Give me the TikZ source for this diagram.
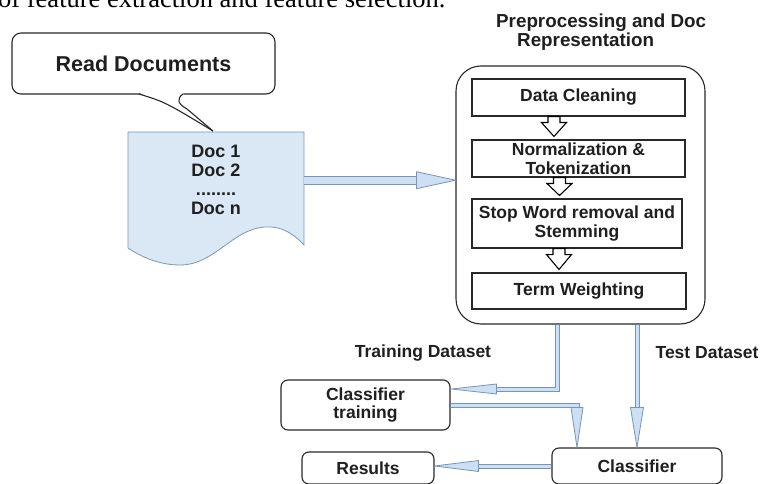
\documentclass[tikz,border=0pt]{standalone}
\usepackage{fontspec}
\setmainfont{Liberation Sans}
\newfontfamily\seriffont{Liberation Serif}
\usetikzlibrary{calc}
\definecolor{docfill}{RGB}{218,231,245}
\definecolor{docedge}{RGB}{125,150,185}
\definecolor{arrfill}{RGB}{205,223,242}
\definecolor{arredge}{RGB}{120,148,185}
\definecolor{boxedge}{RGB}{40,40,40}
\newcommand\arrowhd[4]{\filldraw[bhead, shift={(#1)}, rotate=#2] (0,0) -- (-#3,#4) -- (-#3,-#4) -- cycle;}
\newcommand\hollowdn[3]{%
  \draw[hollow] let \p1=($(#1.south)+(#3,0)$), \p2=($(#2.north)+(0,-3)$) in
    (\x1-6pt,\y1) -- (\x1+6pt,\y1) -- (\x1+6pt,\y1-6pt) -- (\x1+12.5pt,\y1-6pt)
    -- (\x1,\y2) -- (\x1-12.5pt,\y1-6pt) -- (\x1-6pt,\y1-6pt) -- cycle;}
\begin{document}
\begin{tikzpicture}[x=1pt,y=-1pt,
  txt/.style={font=\bfseries\fontsize{17.5}{18.5}\selectfont, text=black!88, align=center, inner sep=0pt},
  inbox/.style={txt, draw=boxedge, line width=1.1pt, minimum width=213pt},
  rbox/.style={txt, draw=boxedge, line width=1.1pt, rounded corners=7pt},
  shaft/.style={draw=arredge, double=arrfill, double distance=3pt, line width=1pt},
  bhead/.style={fill=arrfill, draw=arredge, line width=0.8pt, line join=round},
  hollow/.style={draw=black, fill=white, line width=1.1pt, line join=miter}]
\clip (0,0) rectangle (782,484);
\fill[white] (0,0) rectangle (782,484);

% cut-off line of text at the top
\node[anchor=base west, inner sep=0pt, font=\seriffont\fontsize{26.5}{28}\selectfont] (cap) at (-2,8) {of feature extraction and feature selection.};

% document shape
\filldraw[fill=docfill, draw=docedge, line width=0.8pt] (128,132) -- (304,132) -- (304,245)
  .. controls (292,232) and (280,226) .. (265,227)
  .. controls (232,229) and (215,265) .. (180,265)
  .. controls (158,265) and (140,256) .. (128,248) -- cycle;
\node[txt, font=\bfseries\fontsize{18}{19}\selectfont, minimum width=176pt, minimum height=96pt, anchor=north] (doc) at (216,132) {Doc 1\\Doc 2\\........\\Doc n};

% callout
\node[rbox, rounded corners=9pt, fill=white, minimum width=263pt, minimum height=61pt, font=\bfseries\fontsize{21.5}{22}\selectfont] (rd) at (143.5,63.5) {Read Documents};
\fill[white] (140,93) -- (183,93) -- (187,109) -- (213,131) -- cycle;
\draw[line width=1.1pt, draw=boxedge] (139,94) .. controls (165,102) .. (213,131);
\draw[line width=1.1pt, draw=boxedge] (183,94) .. controls (176,99) and (178,104) .. (187,109) -- (213,131);

% preprocessing block
\node[txt, font=\bfseries\fontsize{18.8}{17.5}\selectfont, align=left, anchor=north west] (title) at (496,14) {Preprocessing and Doc\\\hspace*{21pt}Representation};
\node[draw=boxedge, line width=1.1pt, rounded corners=25pt, minimum width=249pt, minimum height=258pt] (pre) at (580.5,195) {};
\node[inbox, minimum height=37pt] (dc) at (578.5,97.5) {Data Cleaning};
\node[inbox, minimum height=37pt] (nt) at (578.5,158.5) {Normalization \&\\Tokenization};
\node[inbox, minimum width=210pt, minimum height=49pt] (sw) at (577,223.5) {Stop Word removal and\\Stemming};
\node[inbox, minimum width=214pt, minimum height=36pt] (tw) at (579,291) {Term Weighting};
\hollowdn{dc}{nt}{-24.5}
\hollowdn{nt}{sw}{-19}
\hollowdn{sw}{tw}{-18}

% doc -> preprocessing
\draw[shaft, double distance=7pt] (doc.east) -- ($(pre.west |- doc.east)+(-35,0)$);
\arrowhd{pre.west |- doc.east}{0}{39}{8.5}

% lower part
\node[txt] (trl) at (423,353) {Training Dataset};
\node[txt] (tel) at (707,353) {Test Dataset};
\node[rbox, minimum width=169pt, minimum height=50pt] (ct) at (365.5,405) {Classifier\\training};
\node[rbox, minimum width=170pt, minimum height=36pt] (cl) at (637,466) {Classifier};
\node[rbox, minimum width=132pt, minimum height=32pt] (res) at (368,468) {Results};

\draw[shaft] ($(pre.south)+(-23,0)$) |- ($(ct.east)+(40,-16)$);
\arrowhd{$(ct.east)+(1,-16)$}{180}{45}{5}

\draw[shaft] (pre.south -| cl.north) -- ($(cl.north)+(0,-35)$);
\arrowhd{cl.north}{-90}{40}{6.5}

\draw[shaft] (ct.east) -| ($(cl.north)+(-60,-35)$);
\arrowhd{$(cl.north)+(-60,0)$}{-90}{40}{6}

\draw[shaft] (cl.west) -- ($(res.east |- cl.west)+(40,0)$);
\arrowhd{res.east |- cl.west}{180}{44}{5.5}
\end{tikzpicture}
\end{document}
